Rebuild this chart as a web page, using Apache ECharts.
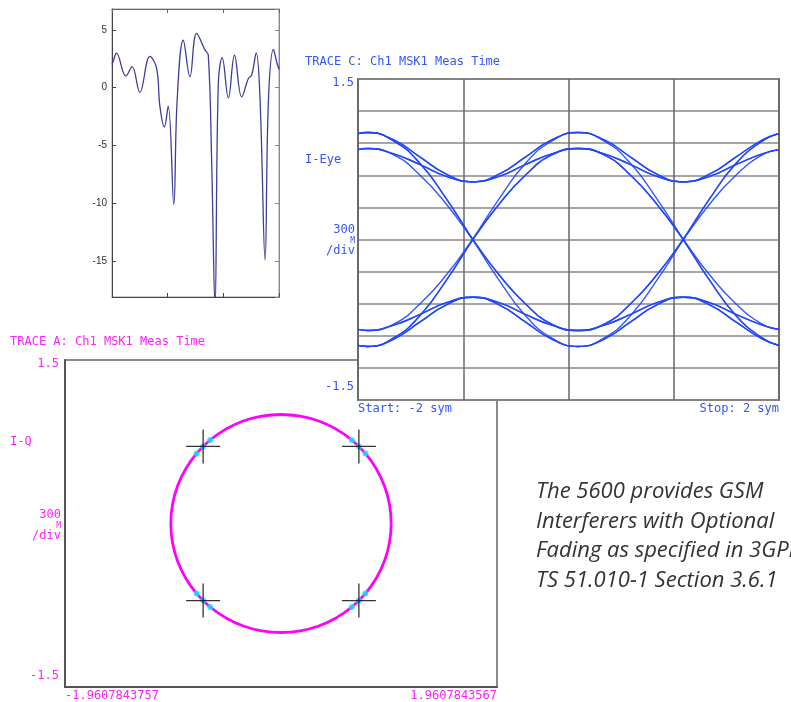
<!DOCTYPE html>
<html>
<head>
<meta charset="utf-8">
<script src="https://cdn.jsdelivr.net/npm/echarts@6/dist/echarts.min.js"></script>
<style>
  html, body { margin: 0; padding: 0; background: #fff; }
  #main { width: 791px; height: 702px; }
</style>
</head>
<body>
<div id="main"></div>
<script>
// fading trace (top left), dB vs time
var fadeX = [0, 0.02, 0.08, 0.25, 0.36, 0.50, 0.68, 0.80, 0.86, 0.94, 1.01, 1.11, 1.17, 1.28, 1.40, 1.52, 1.67, 1.73, 1.79, 1.85, 1.91, 1.98, 2.09, 2.20, 2.33, 2.45, 2.51, 2.59, 2.66, 2.75, 2.81, 2.90, 2.97, 3.0];
var fadeDb = [2.0, 2.25, 2.98, 1.0, 1.82, -0.4, 2.7, 1.7, -1.6, -3.4, -1.6, -10.1, -1.1, 4.1, 0.95, 4.7, 3.27, 2.8, -6.3, -19, 0.4, 2.6, -0.9, 2.8, -0.8, 0.8, 1.1, 3.0, -1.1, -14.9, -1.1, 3.3, 2.0, 1.6];

// eye diagram (trace C), symbol time
var eyeT = [-2, -1.91, -1.66, -1.41, -1.16, -0.91, -0.66, -0.41, -0.16, 0.09, 0.34, 0.59, 0.84, 1.09, 1.34, 1.59, 1.84, 2.0];
var eyeTraces = [
  [0.99, 1.0, 0.93, 0.77, 0.61, 0.54, 0.61, 0.77, 0.93, 1.0, 0.93, 0.77, 0.61, 0.54, 0.61, 0.77, 0.93, 0.99],
  [0.84, 0.85, 0.80, 0.70, 0.59, 0.54, 0.59, 0.70, 0.80, 0.85, 0.80, 0.70, 0.59, 0.54, 0.59, 0.70, 0.80, 0.84],
  [0.99, 1.0, 0.92, 0.71, 0.38, 0, -0.38, -0.71, -0.92, -1.0, -0.92, -0.71, -0.38, 0, 0.38, 0.71, 0.92, 0.99],
  [0.84, 0.85, 0.79, 0.60, 0.33, 0, -0.33, -0.60, -0.79, -0.85, -0.79, -0.60, -0.33, 0, 0.33, 0.60, 0.79, 0.84],
  [-0.99, -1.0, -0.93, -0.77, -0.61, -0.54, -0.61, -0.77, -0.93, -1.0, -0.93, -0.77, -0.61, -0.54, -0.61, -0.77, -0.93, -0.99],
  [-0.84, -0.85, -0.80, -0.70, -0.59, -0.54, -0.59, -0.70, -0.80, -0.85, -0.80, -0.70, -0.59, -0.54, -0.59, -0.70, -0.80, -0.84],
  [-0.99, -1.0, -0.92, -0.71, -0.38, 0, 0.38, 0.71, 0.92, 1.0, 0.92, 0.71, 0.38, 0, -0.38, -0.71, -0.92, -0.99],
  [-0.84, -0.85, -0.79, -0.60, -0.33, 0, 0.33, 0.60, 0.79, 0.85, 0.79, 0.60, 0.33, 0, -0.33, -0.60, -0.79, -0.84],
  [0.99, 1.0, 0.93, 0.77, 0.61, 0.54, 0.59, 0.70, 0.80, 0.85, 0.79, 0.60, 0.33, 0, -0.38, -0.71, -0.92, -0.99],
  [0.84, 0.85, 0.80, 0.70, 0.59, 0.54, 0.61, 0.77, 0.93, 1.0, 0.93, 0.77, 0.61, 0.54, 0.59, 0.70, 0.80, 0.84],
  [-0.99, -1.0, -0.92, -0.71, -0.38, 0, 0.33, 0.60, 0.79, 0.85, 0.80, 0.70, 0.59, 0.54, 0.61, 0.77, 0.93, 0.99],
  [-0.99, -1.0, -0.93, -0.77, -0.61, -0.54, -0.59, -0.70, -0.80, -0.85, -0.79, -0.60, -0.33, 0, 0.38, 0.71, 0.92, 0.99],
  [-0.84, -0.85, -0.80, -0.70, -0.59, -0.54, -0.61, -0.77, -0.93, -1.0, -0.93, -0.77, -0.61, -0.54, -0.59, -0.70, -0.80, -0.84],
  [0.99, 1.0, 0.92, 0.71, 0.38, 0, -0.33, -0.60, -0.79, -0.85, -0.80, -0.70, -0.59, -0.54, -0.61, -0.77, -0.93, -0.99]
];

// I-Q trace (trace A), points around the unit circle every 10 degrees
var iqCircle = [
  [1, 0], [0.985, 0.174], [0.940, 0.342], [0.866, 0.5], [0.766, 0.643], [0.643, 0.766],
  [0.5, 0.866], [0.342, 0.940], [0.174, 0.985], [0, 1], [-0.174, 0.985], [-0.342, 0.940],
  [-0.5, 0.866], [-0.643, 0.766], [-0.766, 0.643], [-0.866, 0.5], [-0.940, 0.342], [-0.985, 0.174],
  [-1, 0], [-0.985, -0.174], [-0.940, -0.342], [-0.866, -0.5], [-0.766, -0.643], [-0.643, -0.766],
  [-0.5, -0.866], [-0.342, -0.940], [-0.174, -0.985], [0, -1], [0.174, -0.985], [0.342, -0.940],
  [0.5, -0.866], [0.643, -0.766], [0.766, -0.643], [0.866, -0.5], [0.940, -0.342], [0.985, -0.174],
  [1, 0], [0.985, 0.174]
];
var iqSymbols = [[0.707, 0.707], [-0.707, 0.707], [-0.707, -0.707], [0.707, -0.707]];
var iqDots = [
  [0.707, 0.707], [0.766, 0.643], [0.643, 0.766],
  [-0.707, 0.707], [-0.766, 0.643], [-0.643, 0.766],
  [-0.707, -0.707], [-0.766, -0.643], [-0.643, -0.766],
  [0.707, -0.707], [0.766, -0.643], [0.643, -0.766]
];

// tick labels
var fadeYLabels = ['-15', '-10', '-5', '0', '5'];
var eyeYLabels = ['1.5', '-1.5'];
var iqYLabels = ['1.5', '-1.5'];
var iqXMin = -1.9607843757, iqXMax = 1.9607843567;
var iqXLabels = ['-1.9607843757', '1.9607843567'];

var mono = '12px "DejaVu Sans Mono"';
var blue = '#3355ff';
var mag = '#ff22ff';

var chart = echarts.init(document.getElementById('main'));

var series = [];
series.push({
  type: 'line', xAxisIndex: 0, yAxisIndex: 0, smooth: 0.4, showSymbol: false,
  lineStyle: { color: '#3d3d9c', width: 1.3 },
  data: fadeX.map(function (x, i) { return [x, fadeDb[i]]; })
});
eyeTraces.forEach(function (tr) {
  series.push({
    type: 'line', xAxisIndex: 3, yAxisIndex: 3, smooth: 0.5, showSymbol: false, z: 12,
    lineStyle: { color: '#1f45ff', width: 1.4, opacity: 0.9 },
    data: eyeT.map(function (x, i) { return [x, tr[i]]; })
  });
});
series.push({
  type: 'line', xAxisIndex: 2, yAxisIndex: 2, smooth: 0.5, showSymbol: false,
  lineStyle: { color: '#ff00ff', width: 2.8 },
  data: iqCircle
});
series.push({
  type: 'scatter', xAxisIndex: 2, yAxisIndex: 2, symbolSize: 6, z: 4,
  itemStyle: { color: '#00e8ff' },
  data: iqDots
});
series.push({
  type: 'scatter', xAxisIndex: 2, yAxisIndex: 2, z: 5,
  symbol: 'path://M0,17L34,17M17,0L17,34', symbolSize: 34,
  itemStyle: { color: 'none', borderColor: '#000', borderWidth: 1.3 },
  data: iqSymbols
});

function pick(v, lo, hi, a, b) {
  if (Math.abs(v - hi) < 1e-6) return a;
  if (Math.abs(v - lo) < 1e-6) return b;
  return '';
}

var option = {
  animation: false,
  backgroundColor: '#fff',
  grid: [
    { left: 112, top: 9, width: 167, height: 288, show: true, borderColor: '#999', borderWidth: 1, backgroundColor: '#fff' },
    { left: 358, top: 79, width: 421, height: 321, show: true, borderColor: '#777', borderWidth: 2, backgroundColor: '#fff', z: 10 },
    { left: 65, top: 360, width: 432, height: 331, show: true, borderColor: '#666', borderWidth: 1.5, backgroundColor: '#fff' },
    { left: 358, top: 79, width: 421, height: 321, show: false, z: 10 }
  ],
  xAxis: [
    { type: 'value', gridIndex: 0, min: 0, max: 3, interval: 1,
      axisLine: { onZero: false, lineStyle: { color: '#444' } },
      axisTick: { inside: true, length: 4, lineStyle: { color: '#444' } },
      axisLabel: { show: false }, splitLine: { show: false } },
    { type: 'value', gridIndex: 0, position: 'top', min: 0, max: 3, interval: 1,
      axisLine: { onZero: false, lineStyle: { color: '#666' } },
      axisTick: { inside: true, length: 4, lineStyle: { color: '#666' } },
      axisLabel: { show: false }, splitLine: { show: false } },
    { type: 'value', gridIndex: 2, min: iqXMin, max: iqXMax,
      axisLine: { onZero: false, lineStyle: { color: '#555', width: 2 } },
      axisTick: { show: false }, splitLine: { show: false },
      axisLabel: {
        color: mag, fontFamily: 'DejaVu Sans Mono', fontSize: 12, margin: 3,
        showMinLabel: true, showMaxLabel: true,
        alignMinLabel: 'left', alignMaxLabel: 'right',
        formatter: function (v) { return pick(v, iqXMin, iqXMax, iqXLabels[1], iqXLabels[0]); }
      } },
    { type: 'value', gridIndex: 3, min: -2, max: 2, interval: 1, z: 11,
      axisLine: { show: false, onZero: false }, axisTick: { show: false }, axisLabel: { show: false },
      splitLine: { lineStyle: { color: '#666', width: 1.5 } } }
  ],
  yAxis: [
    { type: 'value', gridIndex: 0, min: -18.1, max: 6.8, splitNumber: 5,
      axisLine: { onZero: false, lineStyle: { color: '#444' } },
      axisTick: { inside: true, length: 4, lineStyle: { color: '#444' } },
      splitLine: { show: false },
      axisLabel: { color: '#333', fontFamily: 'Liberation Sans', fontSize: 10, margin: 5,
        showMinLabel: false, showMaxLabel: false,
        formatter: function (v) { var s = String(Math.round(v)); return fadeYLabels.indexOf(s) >= 0 && Math.abs(v - Math.round(v)) < 1e-6 ? s : ''; } } },
    { type: 'value', gridIndex: 0, position: 'right', min: -18.1, max: 6.8, splitNumber: 5,
      axisLine: { onZero: false, lineStyle: { color: '#888' } },
      axisTick: { inside: true, length: 4, lineStyle: { color: '#888' } },
      axisLabel: { show: false }, splitLine: { show: false } },
    { type: 'value', gridIndex: 2, min: -1.5, max: 1.5, interval: 0.3,
      axisLine: { onZero: false, lineStyle: { color: '#555', width: 2 } },
      axisTick: { show: false }, splitLine: { show: false },
      axisLabel: {
        color: mag, fontFamily: 'DejaVu Sans Mono', fontSize: 12, margin: 6,
        formatter: function (v) { return pick(v, -1.5, 1.5, '{t|' + iqYLabels[0] + '}', '{b|' + iqYLabels[1] + '}'); },
        rich: { t: { padding: [8, 0, 0, 0] }, b: { padding: [0, 0, 22, 0] } }
      } },
    { type: 'value', gridIndex: 3, min: -1.5, max: 1.5, interval: 0.3, z: 11,
      axisLine: { show: false, onZero: false }, axisTick: { show: false },
      splitLine: { lineStyle: { color: '#888', width: 1.5 } },
      axisLabel: {
        color: blue, fontFamily: 'DejaVu Sans Mono', fontSize: 12, margin: 4,
        formatter: function (v) { return pick(v, -1.5, 1.5, '{t|' + eyeYLabels[0] + '}', '{b|' + eyeYLabels[1] + '}'); },
        rich: { t: { padding: [8, 0, 0, 0] }, b: { padding: [0, 0, 26, 0] } }
      } }
  ],
  graphic: [
    { type: 'text', x: 305, y: 62, z: 20, style: { text: 'TRACE C: Ch1 MSK1 Meas Time', fill: blue, font: mono, verticalAlign: 'middle' } },
    { type: 'text', x: 305, y: 160, z: 20, style: { text: 'I-Eye', fill: blue, font: mono, verticalAlign: 'middle' } },
    { type: 'text', x: 355, y: 230, z: 20, style: { text: '300', fill: blue, font: mono, align: 'right', verticalAlign: 'middle' } },
    { type: 'text', x: 355, y: 241, z: 20, style: { text: 'M', fill: blue, font: '8px "DejaVu Sans Mono"', align: 'right', verticalAlign: 'middle' } },
    { type: 'text', x: 355, y: 251, z: 20, style: { text: '/div', fill: blue, font: mono, align: 'right', verticalAlign: 'middle' } },
    { type: 'text', x: 358, y: 409, z: 20, style: { text: 'Start: -2 sym', fill: blue, font: mono, verticalAlign: 'middle' } },
    { type: 'text', x: 779, y: 409, z: 20, style: { text: 'Stop: 2 sym', fill: blue, font: mono, align: 'right', verticalAlign: 'middle' } },
    { type: 'text', x: 10, y: 342, z: 20, style: { text: 'TRACE A: Ch1 MSK1 Meas Time', fill: mag, font: mono, verticalAlign: 'middle' } },
    { type: 'text', x: 10, y: 442, z: 20, style: { text: 'I-Q', fill: mag, font: mono, verticalAlign: 'middle' } },
    { type: 'text', x: 61, y: 515, z: 20, style: { text: '300', fill: mag, font: mono, align: 'right', verticalAlign: 'middle' } },
    { type: 'text', x: 61, y: 526, z: 20, style: { text: 'M', fill: mag, font: '8px "DejaVu Sans Mono"', align: 'right', verticalAlign: 'middle' } },
    { type: 'text', x: 61, y: 536, z: 20, style: { text: '/div', fill: mag, font: mono, align: 'right', verticalAlign: 'middle' } },
    { type: 'text', x: 536, y: 477, z: 20, style: {
      text: 'The 5600 provides GSM\nInterferers with Optional\nFading as specified in 3GPP\nTS 51.010-1 Section 3.6.1',
      fill: '#333', font: 'italic 22px "Open Sans"', lineHeight: 29.5 } }
  ],
  series: series
};
chart.setOption(option);
</script>
</body>
</html>
